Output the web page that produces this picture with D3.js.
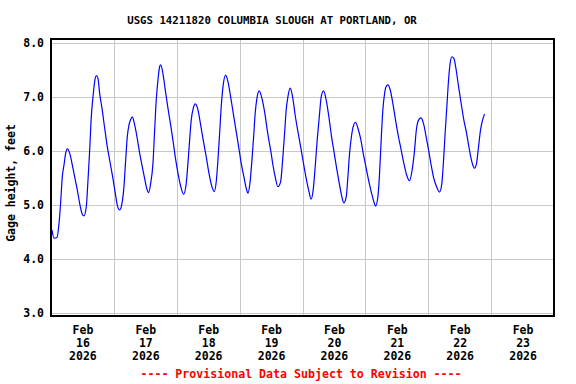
<!DOCTYPE html>
<html>
<head>
<meta charset="utf-8">
<script src="https://cdn.jsdelivr.net/npm/d3@7"></script>
<style>
body{margin:0;background:#fff;}
text{font-family:"DejaVu Sans Mono","Liberation Mono",monospace;font-weight:bold;}
</style>
</head>
<body>
<div id="chart"></div>
<script>
// USGS 14211820 gage height
var titleText = 'USGS 14211820 COLUMBIA SLOUGH AT PORTLAND, OR';
var yTitle = 'Gage height, feet';
var footerText = '---- Provisional Data Subject to Revision ----';

var monthLabel = 'Feb';
var yearLabel = '2026';
var dayLabels = ['16','17','18','19','20','21','22','23'];
var yTicks = [3, 4, 5, 6, 7, 8];

// hours after Feb 16 2026 00:00
var hours = [0.38,1.14,2.29,3.05,3.70,4.31,4.96,5.61,6.22,7.14,8.01,9.04,10.04,11.07,11.94,12.59,13.47,14.12,14.77,15.38,
  16.03,16.67,17.28,17.93,18.58,19.46,20.49,21.48,22.51,23.54,24.53,25.30,26.21,27.09,27.85,28.50,29.11,29.76,30.41,31.02,
  31.94,32.93,33.84,34.72,35.75,36.52,37.28,38.04,38.92,39.57,40.18,40.83,41.48,41.86,42.73,43.61,44.64,45.67,46.55,47.43,
  48.46,49.49,50.63,51.62,52.27,52.92,53.53,54.30,55.06,56.09,57.12,58.11,59.26,60.29,61.43,62.31,63.07,63.72,64.37,64.98,
  65.74,66.66,67.54,68.57,69.56,70.59,71.62,72.61,73.64,74.52,75.17,75.93,76.70,77.34,77.95,78.60,79.48,80.51,81.54,82.53,
  83.45,83.83,84.71,85.58,86.61,87.64,88.41,89.17,89.78,90.43,91.31,92.22,93.21,94.24,95.28,96.27,97.30,98.33,99.32,100.08,
  100.85,101.61,102.53,103.14,104.05,105.05,106.07,107.10,108.10,109.13,110.16,111.04,111.80,112.68,113.33,113.97,114.58,115.35,116.26,117.14,
  118.17,119.16,120.19,121.22,122.22,123.25,123.89,124.77,125.42,126.03,126.68,127.33,127.94,128.59,129.47,130.49,131.52,132.52,133.66,134.69,
  135.72,136.87,137.86,138.78,139.39,140.30,141.29,142.32,143.20,144.12,145.11,146.14,147.17,148.31,149.19,149.84,150.45,151.10,151.75,152.36,
  153.01,153.77,154.65,155.57,156.56,157.59,158.62,159.61,160.64,161.67,162.43,163.20,163.96,164.73,165.48];

var gage = [4.54,4.39,4.40,4.66,5.06,5.52,5.74,5.96,6.04,5.96,5.77,5.52,5.28,5.00,4.83,4.80,4.97,5.46,6.02,6.63,
  7.00,7.28,7.39,7.34,7.06,6.79,6.42,6.08,5.80,5.52,5.22,5.00,4.91,5.03,5.34,5.83,6.26,6.48,6.58,6.63,
  6.48,6.23,5.96,5.74,5.49,5.31,5.23,5.40,5.77,6.39,6.94,7.31,7.56,7.59,7.43,7.13,6.79,6.48,6.20,5.89,
  5.59,5.35,5.20,5.40,5.77,6.20,6.57,6.79,6.87,6.76,6.48,6.20,5.89,5.59,5.34,5.25,5.43,5.83,6.33,6.82,
  7.22,7.40,7.28,7.00,6.70,6.39,6.08,5.77,5.52,5.31,5.22,5.40,5.83,6.26,6.70,6.97,7.11,6.97,6.72,6.39,
  6.12,6.02,5.74,5.52,5.34,5.43,5.83,6.33,6.76,7.00,7.16,7.00,6.66,6.36,6.08,5.80,5.52,5.28,5.11,5.28,
  5.71,6.20,6.70,7.00,7.11,6.94,6.63,6.26,5.96,5.65,5.37,5.15,5.04,5.15,5.52,5.96,6.23,6.45,6.53,6.42,
  6.23,5.96,5.71,5.46,5.25,5.06,4.98,5.15,5.59,6.20,6.76,7.06,7.19,7.22,7.13,6.88,6.57,6.29,6.02,5.77,
  5.56,5.45,5.65,6.02,6.36,6.57,6.61,6.48,6.26,6.02,5.74,5.49,5.34,5.24,5.40,5.83,6.33,6.82,7.31,7.62,
  7.74,7.71,7.50,7.19,6.88,6.57,6.33,6.05,5.80,5.68,5.77,6.08,6.39,6.57,6.68];

var width = 576, height = 384;
var plotLeft = 51, plotRight = 554, plotTop = 42.7, plotBottom = 313.3;
var startDay = new Date(2026, 1, 16), endDay = new Date(2026, 1, 24);

var svg = d3.select('#chart').append('svg').attr('width', width).attr('height', height);

var x = d3.scaleTime().domain([startDay, endDay]).range([plotLeft, plotRight]);
var y = d3.scaleLinear().domain([3, 8]).range([plotBottom, plotTop]);

var toDate = function(h) { return new Date(startDay.getTime() + h * 3600000); };

// grid
var days = d3.timeDay.range(d3.timeDay.offset(startDay, 1), endDay);
svg.append('g').selectAll('line').data(days).enter().append('line')
  .attr('x1', function(d) { return Math.round(x(d)) + 0.5; })
  .attr('x2', function(d) { return Math.round(x(d)) + 0.5; })
  .attr('y1', 39).attr('y2', 316)
  .attr('stroke', '#c8c8c8').attr('stroke-width', 1);
svg.append('g').selectAll('line').data(yTicks).enter().append('line')
  .attr('x1', plotLeft).attr('x2', plotRight)
  .attr('y1', function(d) { return Math.round(y(d)) + 0.5; })
  .attr('y2', function(d) { return Math.round(y(d)) + 0.5; })
  .attr('stroke', '#c8c8c8').attr('stroke-width', 1);

// series
var pts = d3.zip(hours, gage);
var line = d3.line()
  .x(function(d) { return x(toDate(d[0])); })
  .y(function(d) { return y(d[1]); })
  .curve(d3.curveMonotoneX);
svg.append('path').datum(pts).attr('d', line)
  .attr('fill', 'none').attr('stroke', '#0000ff').attr('stroke-width', 1.2);

// frame
svg.append('rect').attr('x', 51).attr('y', 39).attr('width', 503).attr('height', 277)
  .attr('fill', 'none').attr('stroke', '#000').attr('stroke-width', 2);

// y axis
var yAxis = d3.axisLeft(y).tickValues(yTicks).tickFormat(d3.format('.1f')).tickSize(0).tickPadding(7);
var yg = svg.append('g').attr('transform', 'translate(' + plotLeft + ',0)').call(yAxis);
yg.select('.domain').remove();
yg.selectAll('text').attr('font-size', '11.5px').attr('fill', '#000')
  .attr('font-family', '"DejaVu Sans Mono",monospace').attr('font-weight', 'bold');

// x axis, labels at noon
var noons = dayLabels.map(function(d, i) { return new Date(2026, 1, 16 + i, 12); });
var xAxis = d3.axisBottom(x).tickValues(noons).tickSize(0).tickFormat('');
var xg = svg.append('g').attr('transform', 'translate(0,316)').call(xAxis);
xg.select('.domain').remove();
xg.selectAll('.tick text').each(function(d, i) {
  var t = d3.select(this).attr('y', null).attr('dy', null)
    .attr('font-size', '11.5px').attr('fill', '#000')
    .attr('font-family', '"DejaVu Sans Mono",monospace').attr('font-weight', 'bold');
  t.append('tspan').attr('x', 0).attr('y', 18).text(monthLabel);
  t.append('tspan').attr('x', 0).attr('y', 31).text(dayLabels[i]);
  t.append('tspan').attr('x', 0).attr('y', 44).text(yearLabel);
});

// titles
svg.append('text').attr('x', 272).attr('y', 24).attr('text-anchor', 'middle')
  .attr('font-size', '10.7px').text(titleText);
svg.append('text').attr('transform', 'translate(15,183) rotate(-90)').attr('text-anchor', 'middle')
  .attr('font-size', '11.5px').text(yTitle);
svg.append('text').attr('x', 301).attr('y', 378).attr('text-anchor', 'middle')
  .attr('font-size', '11.6px').attr('fill', '#ff0000').text(footerText);
</script>
</body>
</html>
